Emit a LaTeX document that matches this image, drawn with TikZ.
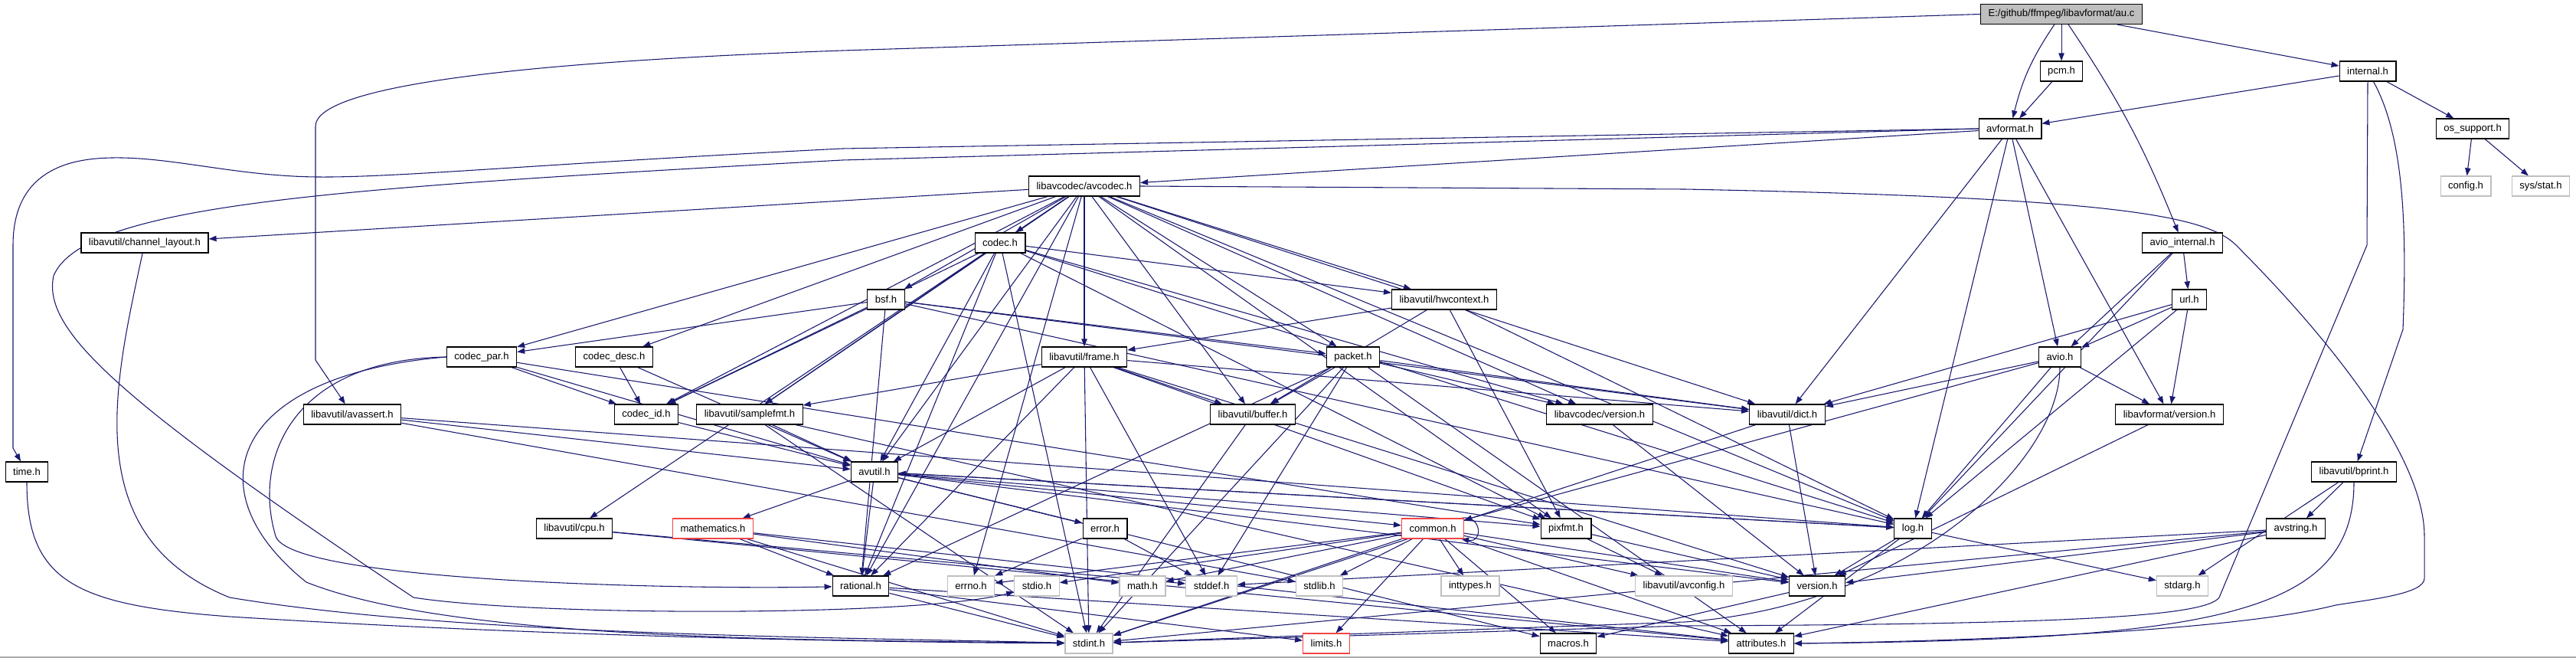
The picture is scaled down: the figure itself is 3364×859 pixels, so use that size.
\documentclass[tikz,border=0pt]{standalone}
\usepackage{fontspec}
\setmainfont{Liberation Sans}
\usetikzlibrary{arrows.meta, backgrounds}
\definecolor{edgeblue}{RGB}{25,25,112}
\definecolor{sysgray}{RGB}{191,191,191}
\definecolor{cutred}{RGB}{240,70,70}

\begin{document}
\begin{tikzpicture}[x=0.75pt,y=-0.75pt,
    hdr/.style={draw=black, fill=white, line width=0.9pt, minimum height=19.5pt,
      inner xsep=7.5pt, inner ysep=0pt, font=\fontsize{9.8}{11}\selectfont},
    sysfile/.style={hdr, draw=sysgray},
    cut/.style={hdr, draw=cutred},
    srcfile/.style={hdr, fill=sysgray},
    inc/.style={draw=edgeblue, line width=0.8pt, -{Triangle[length=7.5pt,width=5.5pt]}}]
        \useasboundingbox (0,0) rectangle (3364,859);

        % Nodes
        \node[srcfile] (root) at (2692,18.5) {E:/github/ffmpeg/libavformat/au.c};
        \node[hdr] (pcm) at (2692,93) {pcm.h};
        \node[hdr] (internal) at (3092,93) {internal.h};
        \node[hdr] (avformat) at (2625,168) {avformat.h};
        \node[hdr] (ossupport) at (3229,168) {os\_support.h};
        \node[sysfile] (config) at (3220,243) {config.h};
        \node[sysfile] (sysstat) at (3318,243) {sys/stat.h};
        \node[hdr] (avcodec) at (1416,243) {libavcodec/avcodec.h};
        \node[hdr] (chlayout) at (189,317) {libavutil/channel\_layout.h};
        \node[hdr] (codec) at (1306,317) {codec.h};
        \node[hdr] (aviointernal) at (2850,317) {avio\_internal.h};
        \node[hdr] (bsf) at (1157,391) {bsf.h};
        \node[hdr] (hwcontext) at (1886,391) {libavutil/hwcontext.h};
        \node[hdr] (url) at (2859,391) {url.h};
        \node[hdr] (codecpar) at (629,466) {codec\_par.h};
        \node[hdr] (codecdesc) at (802,466) {codec\_desc.h};
        \node[hdr] (frame) at (1416,466) {libavutil/frame.h};
        \node[hdr] (packet) at (1767,466) {packet.h};
        \node[hdr] (avio) at (2690,466) {avio.h};
        \node[hdr] (avassert) at (460,541) {libavutil/avassert.h};
        \node[hdr] (codecid) at (844,541) {codec\_id.h};
        \node[hdr] (samplefmt) at (979,541) {libavutil/samplefmt.h};
        \node[hdr] (buffer) at (1636,541) {libavutil/buffer.h};
        \node[hdr] (lavcversion) at (2089,541) {libavcodec/version.h};
        \node[hdr] (dict) at (2334,541) {libavutil/dict.h};
        \node[hdr] (lavfversion) at (2833,541) {libavformat/version.h};
        \node[hdr] (time) at (35,616) {time.h};
        \node[hdr] (avutil) at (1142,616) {avutil.h};
        \node[hdr] (bprint) at (3074,616) {libavutil/bprint.h};
        \node[hdr] (cpu) at (750,690) {libavutil/cpu.h};
        \node[cut] (mathematics) at (931,690) {mathematics.h};
        \node[hdr] (error) at (1443,690) {error.h};
        \node[cut] (common) at (1871,690) {common.h};
        \node[hdr] (pixfmt) at (2045,690) {pixfmt.h};
        \node[hdr] (log) at (2498,690) {log.h};
        \node[hdr] (avstring) at (2998,690) {avstring.h};
        \node[hdr] (rational) at (1124,765) {rational.h};
        \node[sysfile] (errno) at (1268,765) {errno.h};
        \node[sysfile] (stdio) at (1354,765) {stdio.h};
        \node[sysfile] (math) at (1492,765) {math.h};
        \node[sysfile] (stddef) at (1582,765) {stddef.h};
        \node[sysfile] (stdlib) at (1723,765) {stdlib.h};
        \node[sysfile] (inttypes) at (1920,765) {inttypes.h};
        \node[sysfile] (avconfig) at (2199,765) {libavutil/avconfig.h};
        \node[hdr] (version) at (2373,765) {version.h};
        \node[sysfile] (stdarg) at (2850,765) {stdarg.h};
        \node[sysfile] (stdint) at (1422,840) {stdint.h};
        \node[cut] (limits) at (1732,840) {limits.h};
        \node[hdr] (macros) at (2048,840) {macros.h};
        \node[hdr] (attributes) at (2300,840) {attributes.h};

        \begin{scope}[on background layer]
        \fill[white] (0,0) rectangle (3364,859);
        \draw[black!33, line width=1.5pt] (0,857.5) -- (3364,857.5);

        % au.c
        \draw[inc] (root) -- (pcm);
        \draw[inc] (root) to[bend right=10] (avformat);
        \draw[inc] (root) -- (internal);
        \draw[inc] (root) to[bend left=6] (aviointernal);
        \draw[inc] (root.west) -- (1100,66) .. controls (700,80) and (412,110) .. (412,165) -- (412,470) -- (avassert);

        % pcm.h, internal.h, os_support.h
        \draw[inc] (pcm) -- (avformat);
        \draw[inc] (internal) -- (avformat);
        \draw[inc] (internal) -- (ossupport);
        \draw[inc] (internal) .. controls (3140,180) and (3143,300) .. (3138,430) -- (bprint);
        \draw[inc] (internal.south) -- (3091,320) -- (2898,780) .. controls (2880,805) and (2700,815) .. (2200,817) -- (stdint);
        \draw[inc] (ossupport) -- (config);
        \draw[inc] (ossupport) -- (sysstat);

        % avformat.h
        \draw[inc] (avformat) -- (avcodec);
        \draw[inc] (avformat.west) -- (1100,194) .. controls (700,214) and (520,232) .. (414,231)
            .. controls (300,230) and (210,200) .. (126,207) .. controls (45,214) and (17,260) .. (17,320) -- (17,585) -- (time);
        \draw[inc] (avformat.west) -- (1100,209) .. controls (450,245) and (110,265) .. (70,360)
            .. controls (55,430) and (150,520) .. (540,780) .. controls (700,805) and (1200,805) .. (stdio);
        \draw[inc] (avformat) -- (dict);
        \draw[inc] (avformat) -- (log);
        \draw[inc] (avformat) -- (avio);
        \draw[inc] (avformat) -- (lavfversion);

        % avio_internal.h, url.h, avio.h
        \draw[inc] (aviointernal) -- (avio);
        \draw[inc] (aviointernal) -- (url);
        \draw[inc] (aviointernal) -- (log);
        \draw[inc] (url) -- (avio);
        \draw[inc] (url) -- (lavfversion);
        \draw[inc] (url) -- (dict);
        \draw[inc] (url) -- (log);
        \draw[inc] (avio) -- (dict);
        \draw[inc] (avio) -- (log);
        \draw[inc] (avio) -- (lavfversion);
        \draw[inc] (avio) -- (common);
        \draw[inc] (avio) .. controls (2690,600) and (2500,790) .. (2200,812) -- (stdint);
        \draw[inc] (lavfversion) -- (version);

        % bprint.h, avstring.h
        \draw[inc] (bprint) -- (avstring);
        \draw[inc] (bprint) -- (stdarg);
        \draw[inc] (bprint.south) .. controls (3074,800) and (2900,835) .. (attributes.east);
        \draw[inc] (avstring) -- (version);
        \draw[inc] (avstring) -- (stddef);
        \draw[inc] (avstring) -- (stdint);
        \draw[inc] (avstring) -- (attributes);

        % libavcodec/avcodec.h
        \draw[inc] (avcodec) -- (chlayout);
        \draw[inc] (avcodec) -- (codec);
        \draw[inc] (avcodec) -- (bsf);
        \draw[inc] (avcodec) -- (hwcontext);
        \draw[inc] (avcodec) -- (codecpar);
        \draw[inc] (avcodec) -- (codecdesc);
        \draw[inc] (avcodec) -- (codecid);
        \draw[inc] (avcodec) -- (samplefmt);
        \draw[inc] (avcodec) -- (frame);
        \draw[inc] (avcodec) -- (packet);
        \draw[inc] (avcodec) -- (buffer);
        \draw[inc] (avcodec) -- (lavcversion);
        \draw[inc] (avcodec) -- (dict);
        \draw[inc] (avcodec) -- (avutil);
        \draw[inc] (avcodec) -- (cpu);
        \draw[inc] (avcodec) -- (rational);
        \draw[inc] (avcodec) -- (pixfmt);
        \draw[inc] (avcodec) -- (log);
        \draw[inc] (avcodec) -- (errno);
        \draw[inc] (avcodec.east) -- (2200,247) .. controls (2750,258) and (2880,280) .. (2920,320)
            .. controls (3050,450) and (3166,600) .. (3166,700) -- (3166,755)
            .. controls (3166,775) and (3100,782) .. (3050,790) .. controls (2900,828) and (2500,838) .. (attributes.east);

        % codec.h
        \draw[inc] (codec) -- (hwcontext);
        \draw[inc] (codec) -- (codecid);
        \draw[inc] (codec) -- (samplefmt);
        \draw[inc] (codec) -- (avutil);
        \draw[inc] (codec) -- (lavcversion);
        \draw[inc] (codec) -- (pixfmt);
        \draw[inc] (codec) -- (log);
        \draw[inc] (codec) -- (rational);
        \draw[inc] (codec) -- (stdint);

        % bsf.h
        \draw[inc] (bsf) -- (codecpar);
        \draw[inc] (bsf) -- (packet);
        \draw[inc] (bsf) -- (codecid);
        \draw[inc] (bsf) -- (dict);
        \draw[inc] (bsf) -- (log);
        \draw[inc] (bsf) -- (rational);

        % codec_par.h, codec_desc.h, codec_id.h
        \draw[inc] (codecpar) -- (codecid);
        \draw[inc] (codecpar) -- (avutil);
        \draw[inc] (codecpar) -- (pixfmt);
        \draw[inc] (codecpar.west) .. controls (380,470) and (330,600) .. (360,700) .. controls (380,760) and (900,770) .. (rational);
        \draw[inc] (codecpar.west) .. controls (300,490) and (250,640) .. (400,760) .. controls (600,840) and (1100,835) .. (stdint);
        \draw[inc] (codecdesc) -- (codecid);
        \draw[inc] (codecdesc) -- (avutil);
        \draw[inc] (codecid) -- (avutil);

        % libavutil/frame.h, packet.h, hwcontext.h
        \draw[inc] (frame) -- (avutil);
        \draw[inc] (frame) -- (buffer);
        \draw[inc] (frame) -- (dict);
        \draw[inc] (frame) -- (samplefmt);
        \draw[inc] (frame) -- (pixfmt);
        \draw[inc] (frame) -- (rational);
        \draw[inc] (frame) -- (version);
        \draw[inc] (frame) -- (stddef);
        \draw[inc] (frame) -- (stdint);
        \draw[inc] (packet) -- (buffer);
        \draw[inc] (packet) -- (dict);
        \draw[inc] (packet) -- (lavcversion);
        \draw[inc] (packet) -- (rational);
        \draw[inc] (packet) -- (attributes);
        \draw[inc] (packet) -- (stddef);
        \draw[inc] (packet) -- (stdint);
        \draw[inc] (hwcontext) -- (frame);
        \draw[inc] (hwcontext) -- (buffer);
        \draw[inc] (hwcontext) -- (pixfmt);
        \draw[inc] (hwcontext) -- (log);

        % rank of the small libavutil headers
        \draw[inc] (chlayout) .. controls (150,500) and (100,700) .. (300,780) .. controls (600,830) and (1100,832) .. (stdint);
        \draw[inc] (time) .. controls (35,760) and (100,790) .. (300,805) .. controls (700,830) and (1100,838) .. (stdint);
        \draw[inc] (avassert) -- (avutil);
        \draw[inc] (avassert) -- (log);
        \draw[inc] (avassert) -- (stdlib);
        \draw[inc] (samplefmt) -- (avutil);
        \draw[inc] (samplefmt) -- (attributes);
        \draw[inc] (samplefmt) -- (stdint);
        \draw[inc] (buffer) -- (stdint);
        \draw[inc] (lavcversion) -- (version);
        \draw[inc] (dict) -- (version);
        \draw[inc] (dict) -- (stdint);
        \draw[inc] (cpu) -- (stddef);
        \draw[inc] (cpu) -- (attributes);

        % avutil.h
        \draw[inc] (avutil) -- (common);
        \draw[inc] (avutil) -- (error);
        \draw[inc] (avutil) -- (mathematics);
        \draw[inc] (avutil) -- (log);
        \draw[inc] (avutil) -- (pixfmt);
        \draw[inc] (avutil) -- (rational);
        \draw[inc] (avutil) -- (version);
        \draw[inc] (avutil) -- (macros);

        % log.h, error.h, mathematics.h, pixfmt.h
        \draw[inc] (log) -- (avutil);
        \draw[inc] (log) -- (stdarg);
        \draw[inc] (log) -- (version);
        \draw[inc] (log) -- (attributes);
        \draw[inc] (error) -- (errno);
        \draw[inc] (error) -- (stddef);
        \draw[inc] (mathematics) -- (rational);
        \draw[inc] (mathematics) -- (math);
        \draw[inc] (mathematics) -- (stdint);
        \draw[inc] (mathematics) -- (attributes);
        \draw[inc] (pixfmt) -- (avconfig);
        \draw[inc] (pixfmt) -- (version);

        % common.h
        \draw[inc] (common) -- (errno);
        \draw[inc] (common) -- (stdio);
        \draw[inc] (common) -- (math);
        \draw[inc] (common) -- (stdlib);
        \draw[inc] (common) -- (inttypes);
        \draw[inc] (common) -- (avconfig);
        \draw[inc] (common) -- (version);
        \draw[inc] (common) -- (stdint);
        \draw[inc] (common) -- (limits);
        \draw[inc] (common) -- (macros);
        \draw[inc] (common) -- (attributes);
        \draw[inc] ([xshift=-3pt]common.north east) .. controls +(20pt,4pt) and +(22pt,-4pt) .. ([xshift=-3pt]common.south east);

        % rational.h, version.h
        \draw[inc] (rational) -- (stdint);
        \draw[inc] (rational) -- (limits);
        \draw[inc] (rational) -- (attributes);
        \draw[inc] (version) -- (macros);
        \end{scope}
      \end{tikzpicture}
\end{document}
